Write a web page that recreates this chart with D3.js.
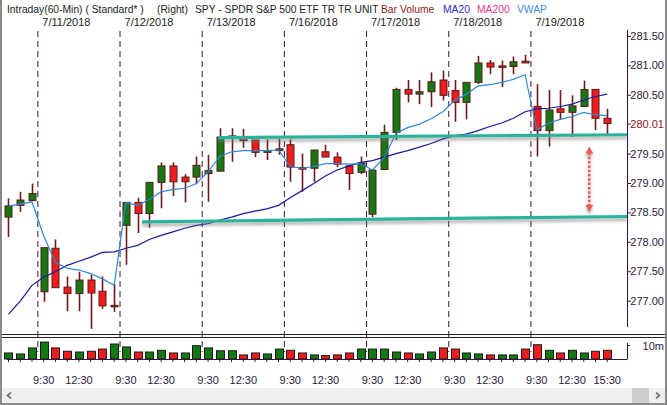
<!DOCTYPE html>
<html lang="en">
<head>
  <meta charset="utf-8">
  <title>SPY Intraday 60-Min</title>
  <script src="https://d3js.org/d3.v7.min.js"></script>
  <style>
    body { margin: 0; background: #fff; }
    #chart { width: 667px; height: 405px; }
    text { font-family: 'Liberation Sans', Arial, sans-serif; font-size: 11px; }
  </style>
</head>
<body>
<div id="chart"></div>
<script>
  // Sessions and hourly bars (first session only has the last 3 bars on screen)
  var sessions = ["7/10/2018", "7/11/2018", "7/12/2018", "7/13/2018", "7/16/2018", "7/17/2018", "7/18/2018", "7/19/2018"];
  var hours = ["9:30", "10:30", "11:30", "12:30", "13:30", "14:30", "15:30"];
  var timeLabels = ["9:30", "12:30"];

  var open  = [278.42, 278.62, 278.70, 277.15, 277.89, 277.23, 277.12, 277.35, 277.16, 276.91,
               278.28, 278.67, 278.48, 279.01, 279.29, 279.10, 279.10, 279.16, 279.20, 279.78,
               279.77, 279.73, 279.52, 279.55, 279.65, 279.26, 279.25, 279.53, 279.44, 279.29,
               279.18, 278.47, 279.23, 279.86, 280.59, 280.51, 280.55, 280.75, 280.57, 280.37,
               280.71, 281.04, 280.99, 280.98, 281.07, 280.30, 279.89, 280.26, 280.20, 280.30,
               280.59, 280.10];
  var high  = [278.74, 278.85, 278.99, 277.90, 278.04, 277.41, 277.49, 277.44, 277.41, 277.29,
               278.67, 278.75, 279.01, 279.35, 279.35, 279.15, 279.45, 279.48, 279.93, 279.93,
               279.92, 279.73, 279.74, 279.75, 279.74, 279.50, 279.56, 279.65, 279.52, 279.29,
               279.45, 279.22, 279.99, 280.62, 280.75, 280.75, 280.88, 280.91, 280.75, 280.71,
               281.16, 281.09, 281.08, 281.15, 281.18, 280.68, 280.58, 280.58, 280.49, 280.74,
               280.59, 280.26];
  var low   = [278.08, 278.51, 278.70, 276.98, 277.22, 276.82, 276.82, 276.52, 276.86, 276.81,
               277.61, 278.15, 278.24, 278.57, 278.78, 278.67, 278.98, 278.68, 279.20, 279.36,
               279.60, 279.44, 279.39, 279.48, 279.02, 278.85, 279.02, 279.44, 279.27, 278.88,
               279.15, 278.42, 279.23, 279.73, 280.37, 280.34, 280.29, 280.40, 280.04, 280.08,
               280.68, 280.85, 280.63, 280.85, 281.04, 279.45, 279.62, 280.07, 279.78, 280.30,
               279.90, 279.80];
  var close = [278.61, 278.71, 278.82, 277.90, 277.22, 277.12, 277.35, 277.13, 276.91, 276.92,
               278.67, 278.48, 279.01, 279.29, 279.02, 279.02, 279.30, 279.21, 279.78, 279.80,
               279.72, 279.52, 279.55, 279.58, 279.27, 279.24, 279.56, 279.44, 279.32, 279.16,
               279.34, 279.22, 279.86, 280.59, 280.51, 280.55, 280.72, 280.49, 280.37, 280.71,
               281.04, 280.97, 280.97, 281.06, 281.04, 279.89, 280.24, 280.20, 280.31, 280.59,
               280.10, 280.01];
  // volume in millions, and the up/down colour of each volume bar
  var volume = [4.3, 3.6, 7.9, 12.1, 7.9, 5.5, 5.0, 5.5, 7.1, 10.7,
                8.6, 5.0, 5.0, 6.2, 4.3, 4.3, 9.5, 7.9, 5.9, 5.9,
                2.9, 4.3, 3.6, 7.1, 6.2, 4.3, 2.9, 2.4, 2.9, 4.3,
                7.1, 7.1, 7.1, 5.0, 4.3, 3.6, 5.0, 7.9, 7.1, 4.3,
                3.6, 2.9, 2.9, 2.9, 7.1, 10.2, 6.2, 4.3, 6.2, 4.3,
                5.5, 6.2];
  var volUp = "ggggrrgrrggrggrgggggrrggrrgrrrggggrggrrggrggrrgrggrr".split("");
  var ma20 = [276.77, 276.99, 277.26, 277.40, 277.49, 277.60, 277.67, 277.74, 277.82, 277.83,
              277.89, 277.94, 278.04, 278.11, 278.17, 278.23, 278.28, 278.31, 278.37, 278.42,
              278.48, 278.52, 278.56, 278.62, 278.75, 278.87, 278.99, 279.12, 279.22, 279.29,
              279.35, 279.38, 279.44, 279.50, 279.55, 279.61, 279.67, 279.75, 279.80, 279.83,
              279.89, 279.96, 280.02, 280.10, 280.21, 280.26, 280.27, 280.30, 280.34, 280.41,
              280.47, 280.51];
  var vwap = [278.61, 278.64, 278.68, 278.10, 277.65, 277.55, 277.52, 277.46, 277.37, 277.26,
              278.67, 278.62, 278.72, 278.85, 278.89, 278.91, 278.99, 279.19, 279.45, 279.53,
              279.55, 279.55, 279.55, 279.56, 279.28, 279.25, 279.28, 279.33, 279.33, 279.32,
              279.33, 279.22, 279.43, 279.84, 279.94, 280.00, 280.09, 280.21, 280.40, 280.51,
              280.65, 280.67, 280.71, 280.76, 280.84, 279.90, 280.02, 280.08, 280.13, 280.20,
              280.16, 280.14];
  var priceTicks = [277.00, 277.50, 278.00, 278.50, 279.00, 279.50, 280.01, 280.50, 281.00, 281.50];
  var lastPrice = 280.01;
  // hand drawn support / resistance lines: bar index and price at each end
  var levelFrom = [17.85, 11.37], levelTo = [52.7, 52.7];
  var levelP0 = [279.77, 278.34], levelP1 = [279.82, 278.43];
  // dotted double arrow between the two levels
  var arrowAt = 49.47, arrowTop = 279.62, arrowBottom = 278.51;

  // build bar keys
  var keys = [];
  sessions.forEach(function(s, si) {
    (si === 0 ? hours.slice(4) : hours).forEach(function(h) { keys.push(s + " " + h); });
  });
  var bars = keys.map(function(k, i) {
    return {key: k, i: i, o: open[i], h: high[i], l: low[i], c: close[i], v: volume[i], up: volUp[i] === "g"};
  });

  var W = 667, H = 405;
  var axisX = 627;
  var svg = d3.select("#chart").append("svg").attr("width", W).attr("height", H);

  var x = d3.scaleBand().domain(keys).range([2.63, 613.1]);
  var cx = function(k) { return x(k) + x.bandwidth() / 2; };
  var xi = d3.scaleLinear().domain([0, keys.length - 1]).range([cx(keys[0]), cx(keys[keys.length - 1])]);
  var y = d3.scaleLinear().domain([276.45, 281.6]).range([333, 30]);
  var yv = d3.scaleLinear().domain([0, 10]).range([359, 345]);

  var defs = svg.append("defs");
  var f = defs.append("filter").attr("id", "shadow").attr("x", "-5%").attr("y", "-200%").attr("width", "110%").attr("height", "500%");
  f.append("feDropShadow").attr("dx", 0).attr("dy", 3).attr("stdDeviation", 1.6)
    .attr("flood-color", "#707070").attr("flood-opacity", 0.55);

  // title
  var title = [
    {t: "Intraday(60-Min) ( Standard* )", x: 7, c: "#222"},
    {t: "(Right)", x: 157, c: "#222"},
    {t: "SPY - SPDR S&P 500 ETF TR TR UNIT", x: 195, c: "#222"},
    {t: "Bar", x: 381, c: "#8b1a1a"},
    {t: "Volume", x: 400, c: "#8b1a1a"},
    {t: "MA20", x: 443, c: "#2b2bc8"},
    {t: "MA200", x: 477, c: "#e0378a"},
    {t: "VWAP", x: 517, c: "#3c8ee6"}
  ];
  svg.selectAll(".title").data(title).enter().append("text")
    .attr("x", d => d.x).attr("y", 13).attr("fill", d => d.c)
    .style("font-size", "10.3px").text(d => d.t);

  // day separators and date headers
  var dayKeys = sessions.slice(1).map(s => s + " 9:30");
  svg.selectAll(".sep").data(dayKeys).enter().append("line")
    .attr("x1", d => x(d)).attr("x2", d => x(d))
    .attr("y1", 31).attr("y2", 352)
    .attr("stroke", "#3a1040").attr("stroke-dasharray", "6,4");
  svg.selectAll(".day").data(dayKeys).enter().append("text")
    .attr("x", d => x(d) + 4.5).attr("y", 26).attr("fill", "#222")
    .text(d => d.split(" ")[0]);

  // price axis
  var yAxis = svg.append("g").attr("transform", "translate(" + axisX + ",0)")
    .call(d3.axisRight(y).tickValues(priceTicks).tickSize(4).tickFormat(d3.format(".2f")));
  yAxis.select(".domain").attr("d", "M0.5,30V327").attr("stroke", "#3a1040");
  yAxis.selectAll(".tick line").attr("stroke", "#3a1040");
  yAxis.selectAll(".tick text").attr("x", 37).attr("text-anchor", "end")
    .attr("font-family", "'Liberation Sans', Arial, sans-serif").attr("font-size", 11)
    .attr("fill", d => d === lastPrice ? "#8b1a1a" : "#2a1a3a");

  // candles
  var candles = svg.append("g");
  candles.selectAll(".wick").data(bars).enter().append("line")
    .attr("x1", d => Math.round(cx(d.key)) + 0.5).attr("x2", d => Math.round(cx(d.key)) + 0.5)
    .attr("y1", d => y(d.h)).attr("y2", d => y(d.l))
    .attr("stroke", "#6e1a1a").attr("stroke-width", 1.6);
  candles.selectAll(".body").data(bars).enter().append("rect")
    .attr("x", d => Math.round(cx(d.key)) - 3)
    .attr("y", d => y(Math.max(d.o, d.c)))
    .attr("width", 7)
    .attr("height", d => Math.max(1.5, Math.abs(y(d.o) - y(d.c))))
    .attr("fill", d => d.c >= d.o ? "#137a13" : "#ee1c1c")
    .attr("stroke", "#5c1a1a").attr("stroke-width", 1);

  // MA20 and VWAP lines
  var line = d3.line().x((d, i) => cx(keys[i])).y(d => y(d));
  svg.append("path").datum(ma20).attr("d", line)
    .attr("fill", "none").attr("stroke", "#1a1aa0").attr("stroke-width", 1.2);
  svg.append("path").datum(vwap).attr("d", line)
    .attr("fill", "none").attr("stroke", "#2a8ad8").attr("stroke-width", 1.2);

  // support / resistance levels
  svg.selectAll(".level").data(levelFrom).enter().append("line")
    .attr("x1", (d, i) => xi(levelFrom[i])).attr("x2", (d, i) => Math.min(axisX, xi(levelTo[i])))
    .attr("y1", (d, i) => y(levelP0[i])).attr("y2", (d, i) => y(levelP1[i]))
    .attr("stroke", "#2bb39b").attr("stroke-width", 3.2)
    .attr("filter", "url(#shadow)");

  // dotted double arrow
  var ax = xi(arrowAt), ay1 = y(arrowTop), ay2 = y(arrowBottom);
  var arrow = svg.append("g").attr("filter", "url(#shadow)");
  arrow.append("line").attr("x1", ax).attr("x2", ax).attr("y1", ay1 + 6).attr("y2", ay2 - 6)
    .attr("stroke", "#f05a5a").attr("stroke-width", 2.6).attr("stroke-dasharray", "2.5,1.8");
  arrow.append("path").attr("d", "M" + (ax - 4) + "," + (ay1 + 7) + "L" + ax + "," + ay1 + "L" + (ax + 4) + "," + (ay1 + 7) + "Z")
    .attr("fill", "#f05a5a");
  arrow.append("path").attr("d", "M" + (ax - 4) + "," + (ay2 - 7) + "L" + ax + "," + ay2 + "L" + (ax + 4) + "," + (ay2 - 7) + "Z")
    .attr("fill", "#f05a5a");

  // panel separator
  [334.5, 337.5].forEach(function(yy) {
    svg.append("line").attr("x1", 2).attr("x2", 665).attr("y1", yy).attr("y2", yy)
      .attr("stroke", "#222").attr("stroke-width", 1);
  });

  // volume panel
  svg.selectAll(".vol").data(bars).enter().append("rect")
    .attr("x", d => Math.round(cx(d.key)) - 3.5)
    .attr("y", d => yv(d.v)).attr("width", 8).attr("height", d => yv(0) - yv(d.v))
    .attr("fill", d => d.up ? "#137a13" : "#ee1c1c")
    .attr("stroke", "#1a1a1a").attr("stroke-width", 1);

  var xAxis = svg.append("g").attr("transform", "translate(0,359)")
    .call(d3.axisBottom(x).tickSize(3).tickFormat(""));
  xAxis.select(".domain").attr("d", "M7,0.5H" + axisX).attr("stroke", "#3a1040");
  xAxis.selectAll(".tick line").attr("stroke", "#3a1040");

  var vAxis = svg.append("g").attr("transform", "translate(" + axisX + ",0)")
    .call(d3.axisRight(yv).tickValues([10]).tickSize(3).tickFormat(d => d + "m"));
  vAxis.select(".domain").attr("d", "M0.5,343V359.5").attr("stroke", "#3a1040");
  vAxis.selectAll(".tick line").attr("stroke", "#3a1040");
  vAxis.selectAll(".tick text").attr("x", 37).attr("text-anchor", "end").attr("dy", "0.45em")
    .attr("font-family", "'Liberation Sans', Arial, sans-serif").attr("font-size", 11).attr("fill", "#2a1a3a");

  // time labels
  var timeKeys = [];
  sessions.slice(1).forEach(function(s) { timeLabels.forEach(function(t) { timeKeys.push(s + " " + t); }); });
  timeKeys.push(keys[keys.length - 1]);
  svg.selectAll(".time").data(timeKeys).enter().append("text")
    .attr("x", d => cx(d)).attr("y", 384).attr("text-anchor", "middle").attr("fill", "#2a1a3a")
    .text(d => d.split(" ")[1]);

  // scrollbar
  svg.append("rect").attr("x", 2).attr("y", 388).attr("width", 663).attr("height", 15).attr("fill", "#f0f0f0");
  svg.append("rect").attr("x", 632).attr("y", 388).attr("width", 17).attr("height", 15).attr("fill", "#cdcdcd");
  svg.append("path").attr("d", "M11,392.5L7.5,395.5L11,398.5").attr("fill", "none").attr("stroke", "#606060").attr("stroke-width", 1.6);
  svg.append("path").attr("d", "M656,392.5L659.5,395.5L656,398.5").attr("fill", "none").attr("stroke", "#606060").attr("stroke-width", 1.6);

  // outer frame
  svg.append("path").attr("d", "M1,0V404H666V0").attr("fill", "none").attr("stroke", "#8a8a8a").attr("stroke-width", 2);
</script>
</body>
</html>
